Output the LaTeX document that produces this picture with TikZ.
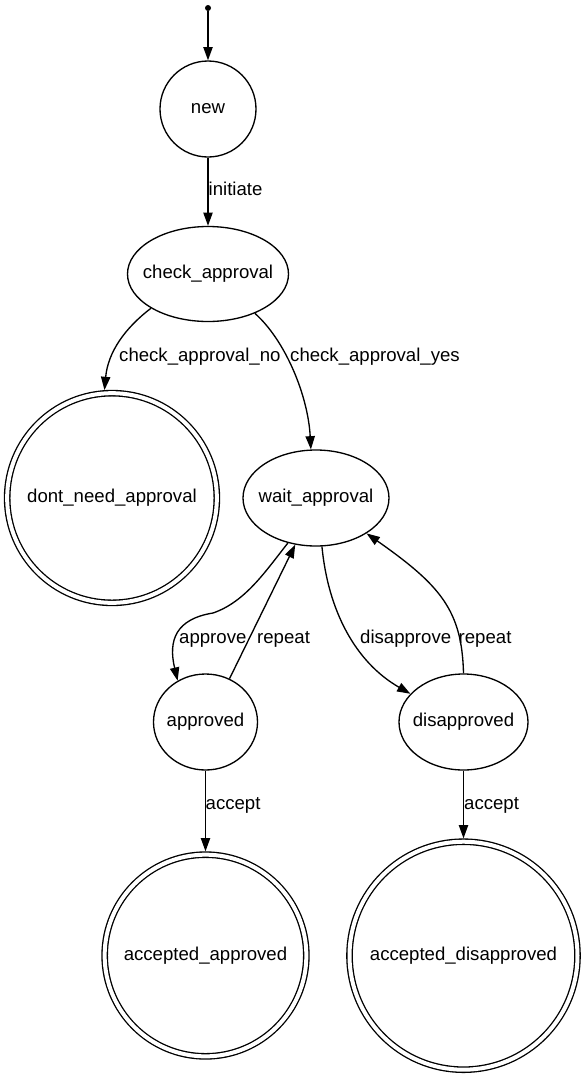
\documentclass[tikz,border=0pt]{standalone}
\usepackage{fontspec}
\setmainfont{Liberation Sans}
\usetikzlibrary{arrows.meta,shapes.geometric}
\newcommand{\nodetext}[1]{\makebox[0pt][c]{#1}}
\begin{document}
\begin{tikzpicture}[x=1pt,y=-1pt,
  base/.style={draw, line width=1.33pt, inner sep=0pt, font=\fontsize{18.6}{22}\selectfont},
  circ/.style={base, circle},
  ell/.style={base, ellipse},
  fin/.style={base, circle, double, double distance=4pt, outer sep=3.33pt},
  edge/.style={line width=1.33pt, -{Triangle[length=13.3pt,width=9.3pt]}},
  lab/.style={anchor=mid west, inner sep=0pt, font=\fontsize{18.6}{22}\selectfont}]
\useasboundingbox (0,0) rectangle (585,1077);
% nodes
\node[circle, fill=black, inner sep=0pt, minimum size=6pt] (start) at (208,8) {};
\node[circ, minimum size=96pt] (new) at (208,109) {new};
\node[ell, minimum width=161pt, minimum height=95pt] (chk) at (208,274) {\nodetext{check\_approval}};
\node[fin, minimum size=209.7pt] (dna) at (112,498) {dont\_need\_approval};
\node[ell, minimum width=146pt, minimum height=96pt] (wait) at (316,498) {\nodetext{wait\_approval}};
\node[ell, minimum width=104pt, minimum height=96pt] (appr) at (205.5,722) {\nodetext{approved}};
\node[ell, minimum width=129pt, minimum height=96pt] (disa) at (463.5,722) {\nodetext{disapproved}};
\node[fin, minimum size=201.7pt] (aa) at (205.5,955.5) {accepted\_approved};
\node[fin, minimum size=228pt] (ad) at (463.5,955.7) {accepted\_disapproved};
% edges
\draw[edge] (start) -- (new);
\draw[edge] (new) -- (chk);
\draw[edge] (chk.211) .. controls (125,328) and (108,352) .. (dna.94);
\draw[edge] (chk.320) .. controls (285,340) and (308,395) .. (wait.96);
\draw[edge] (wait.238) .. controls (265,572) and (245,602) .. (213,613)
  .. controls (176,619) and (168,640) .. (appr.124);
\draw[edge] (appr.61) -- (wait.246);
\draw[edge] (wait.277) .. controls (328,610) and (355,662) .. (disa.152);
\draw[edge] (disa.north) .. controls (462,610) and (440,585) .. (wait.325);
\draw[edge] (appr) -- (aa);
\draw[edge] (disa) -- (ad);
% labels
\node[lab] (l1) at (208.5,193) {initiate};
\node[lab] (l2) at (119,359) {check\_approval\_no};
\node[lab] (l3) at (290,359) {check\_approval\_yes};
\node[lab] (l4) at (179,641) {approve};
\node[lab] (l5) at (257,641) {repeat};
\node[lab] (l6) at (360,641) {disapprove};
\node[lab] (l7) at (458.5,641) {repeat};
\node[lab] (l8) at (205.5,807) {accept};
\node[lab] (l9) at (464,807) {accept};
\end{tikzpicture}
\end{document}
